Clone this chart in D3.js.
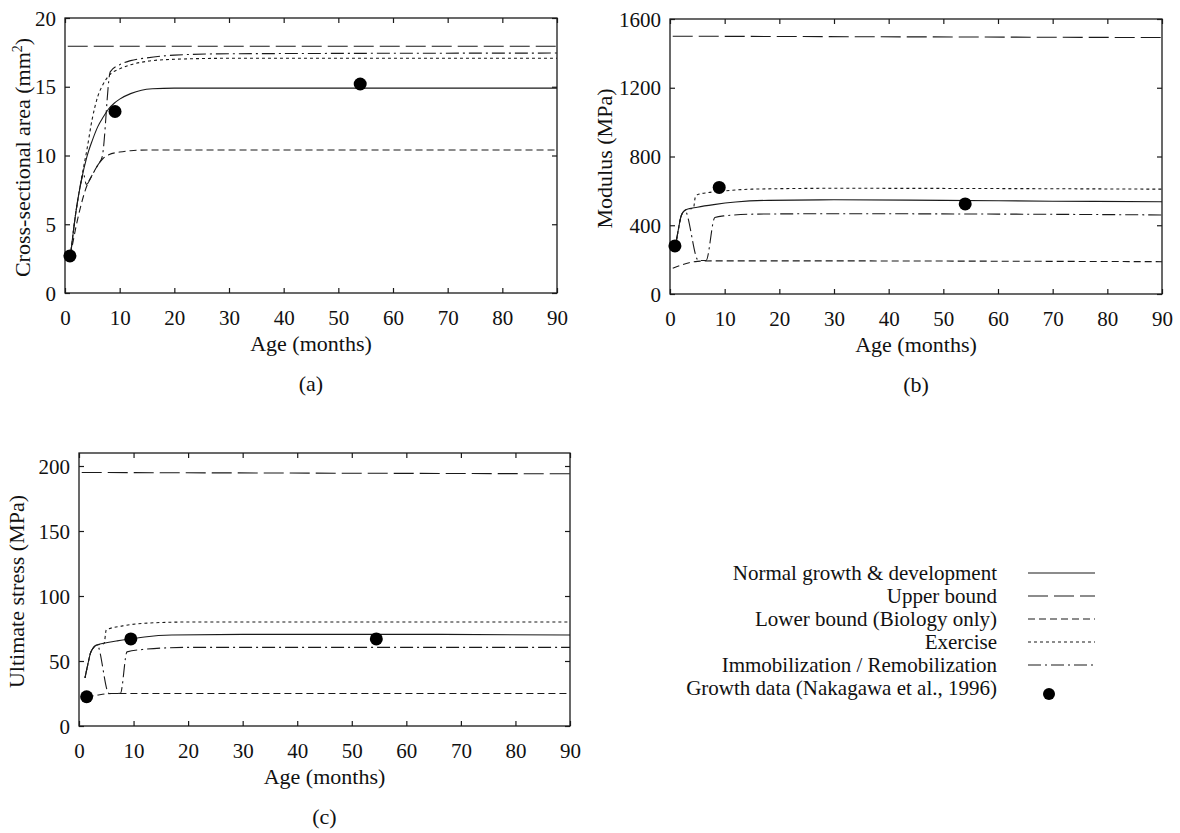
<!DOCTYPE html>
<html>
<head>
<meta charset="utf-8">
<script src="https://cdn.jsdelivr.net/npm/d3@7"></script>
<style>
  body { margin: 0; background: #fff; }
  text { font-family: 'Liberation Serif', 'Times New Roman', serif; fill: #111; }
</style>
</head>
<body>
<svg id="chart" width="1180" height="833"></svg>
<script>
/* global d3 */

// ---- data ----
const ageTicks = [0, 10, 20, 30, 40, 50, 60, 70, 80, 90]
const areaTicks = [0, 5, 10, 15, 20]
const modulusTicks = [0, 400, 800, 1200, 1600]
const stressTicks = [0, 50, 100, 150, 200]

// (a) cross-sectional area, mm^2  [age, value]
const areaNormal = [[1, 2.7], [2, 5.9], [3, 8.2], [4, 9.9], [5, 11.1], [6, 12.1], [7, 12.8], [8, 13.4], [9, 13.8], [10, 14.1], [12, 14.5], [14, 14.75], [16, 14.85], [20, 14.9], [90, 14.9]]
const areaUpper = [[0.5, 17.95], [90, 17.95]]
const areaLower = [[1, 2.7], [2, 4.8], [3, 6.5], [4, 7.8], [5, 8.6], [6, 9.3], [7, 9.8], [8, 10.05], [10, 10.25], [12, 10.35], [15, 10.4], [90, 10.4]]
const areaExercise = [[1, 2.7], [2, 5.9], [3, 8.3], [4, 10.4], [5, 12.7], [6, 14.3], [7, 15.2], [8, 15.8], [10, 16.3], [12, 16.6], [15, 16.85], [20, 17.0], [30, 17.07], [90, 17.07]]
const areaImmob = [[1, 2.7], [2, 5.9], [3, 8.2], [3.35, 8.7], [3.9, 7.9], [5, 8.6], [6, 9.3], [6.8, 9.9], [8.3, 16.1], [10, 16.6], [12, 16.9], [15, 17.1], [20, 17.3], [30, 17.4], [90, 17.45]]
const areaData = [[0.9, 2.7], [9.15, 13.2], [54, 15.2]]

// (b) modulus, MPa
const modNormal = [[1, 280], [1.5, 370], [2, 450], [2.5, 480], [3, 492], [5, 505], [8, 520], [12, 535], [18, 545], [30, 548], [50, 545], [70, 540], [90, 537]]
const modUpper = [[0.5, 1500], [90, 1492]]
const modLower = [[0.5, 150], [2, 168], [3.5, 182], [5, 190], [8, 193], [15, 193], [90, 188]]
const modExercise = [[1, 280], [1.5, 370], [2, 450], [2.5, 480], [3, 492], [4.3, 500], [4.6, 560], [5, 578], [7, 590], [10, 600], [15, 610], [30, 615], [90, 610]]
const modImmob = [[1, 280], [1.5, 370], [2, 450], [2.7, 485], [5.2, 195], [6.6, 195], [8.2, 445], [10, 455], [16, 465], [30, 467], [60, 465], [90, 460]]
const modData = [[0.9, 280], [9, 620], [54, 524]]

// (c) ultimate stress, MPa
const stressNormal = [[1.1, 37], [1.6, 47], [2.1, 56], [2.6, 60], [3.1, 62], [5, 64], [7, 65.5], [9.5, 67], [12, 68.5], [17, 70], [30, 70.5], [60, 70.5], [90, 70]]
const stressUpper = [[0.5, 195], [90, 194]]
const stressLower = [[1.4, 22.5], [3, 23.5], [6, 25], [90, 25]]
const stressExercise = [[1.1, 37], [1.6, 47], [2.1, 56], [2.6, 60], [3.1, 62], [4.6, 63.5], [5.0, 74], [8, 77], [12, 79], [20, 80], [90, 80]]
const stressImmob = [[1.1, 37], [1.6, 47], [2.1, 56], [2.6, 60], [3.3, 62.5], [5.5, 25], [7.6, 25.2], [8.8, 57], [12, 59], [20, 60.5], [90, 60.5]]
const stressData = [[1.4, 22.5], [9.5, 67], [54.5, 67]]

const legendLabels = ['Normal growth & development', 'Upper bound', 'Lower bound (Biology only)', 'Exercise', 'Immobilization / Remobilization', 'Growth data (Nakagawa et al., 1996)']

// ---- styles ----
let tickSize = 21
let titleSize = 22
let legendSize = 21
let lineColor = '#1a1a1a'
const serif = "'Liberation Serif', 'Times New Roman', serif"
const dashes = { normal: null, upper: '20,6', lower: '7,4', exercise: '3,3', immob: '13,4,2,4' }

const svg = d3.select('#chart')

function drawPanel (box, yMax, yTicks, series, points, yLabel, tag) {
  const x = d3.scaleLinear().domain([0, 90]).range([box.left, box.right])
  const y = d3.scaleLinear().domain([0, yMax]).range([box.bottom, box.top])
  const g = svg.append('g')

  // frame
  g.append('rect')
    .attr('x', box.left)
    .attr('y', box.top)
    .attr('width', box.right - box.left)
    .attr('height', box.bottom - box.top)
    .attr('fill', 'none')
    .attr('stroke', lineColor)
    .attr('stroke-width', 1.3)

  // axes with inward ticks, mirrored on top / right
  const bottom = g.append('g').attr('transform', 'translate(0,' + box.bottom + ')')
    .call(d3.axisBottom(x).tickValues(ageTicks).tickFormat(d3.format('d')).tickSizeInner(-5).tickSizeOuter(0).tickPadding(17))
  const left = g.append('g').attr('transform', 'translate(' + box.left + ',0)')
    .call(d3.axisLeft(y).tickValues(yTicks).tickFormat(d3.format('d')).tickSizeInner(-5).tickSizeOuter(0).tickPadding(9))
  g.append('g').attr('transform', 'translate(0,' + box.top + ')')
    .call(d3.axisTop(x).tickValues(ageTicks).tickSizeInner(-5).tickSizeOuter(0).tickFormat(''))
  g.append('g').attr('transform', 'translate(' + box.right + ',0)')
    .call(d3.axisRight(y).tickValues(yTicks).tickSizeInner(-5).tickSizeOuter(0).tickFormat(''))
  g.selectAll('.domain').remove()
  g.selectAll('.tick line').attr('stroke', lineColor).attr('stroke-width', 1.2)
  g.selectAll('g').attr('font-family', serif)
  g.selectAll('.tick text')
    .style('font-size', tickSize + 'px')
    .style('font-family', serif)
    .attr('fill', '#111')
  bottom.selectAll('.tick text').attr('dy', '0.71em')
  left.selectAll('.tick text').attr('dy', '0.34em')

  // curves
  const line = d3.line()
    .x(d => x(d[0]))
    .y(d => y(d[1]))
    .curve(d3.curveMonotoneX)
  Object.keys(series).forEach(function (k) {
    g.append('path')
      .datum(series[k])
      .attr('d', line)
      .attr('fill', 'none')
      .attr('stroke', lineColor)
      .attr('stroke-width', 1.1)
      .attr('stroke-dasharray', dashes[k])
  })

  g.selectAll('circle.pt')
    .data(points)
    .enter()
    .append('circle')
    .attr('class', 'pt')
    .attr('cx', d => x(d[0]))
    .attr('cy', d => y(d[1]))
    .attr('r', 6.5)
    .attr('fill', '#000')

  // labels
  const midY = (box.top + box.bottom) / 2 + 2
  const yl = g.append('text')
    .attr('transform', 'translate(' + box.labelX + ',' + midY + ') rotate(-90)')
    .attr('text-anchor', 'middle')
    .attr('dy', '0.35em')
    .style('font-size', titleSize + 'px')
  yLabel(yl)

  g.append('text')
    .text('Age (months)')
    .attr('x', (box.left + box.right) / 2)
    .attr('y', box.bottom + 58)
    .attr('text-anchor', 'middle')
    .style('font-size', titleSize + 'px')
  g.append('text')
    .text(tag)
    .attr('x', (box.left + box.right) / 2)
    .attr('y', box.bottom + 98)
    .attr('text-anchor', 'middle')
    .style('font-size', titleSize + 'px')
}

drawPanel({ left: 65, right: 557, top: 18, bottom: 293, labelX: 22 }, 20, areaTicks,
  { normal: areaNormal, upper: areaUpper, lower: areaLower, exercise: areaExercise, immob: areaImmob },
  areaData,
  function (t) {
    t.append('tspan').text('Cross-sectional area (mm')
    t.append('tspan').text('2').attr('dy', -8).style('font-size', '14px')
    t.append('tspan').text(')').attr('dy', 8)
  }, '(a)')

drawPanel({ left: 670, right: 1162, top: 19, bottom: 294, labelX: 604 }, 1600, modulusTicks,
  { normal: modNormal, upper: modUpper, lower: modLower, exercise: modExercise, immob: modImmob },
  modData,
  function (t) { t.text('Modulus (MPa)') }, '(b)')

drawPanel({ left: 79, right: 570, top: 453, bottom: 726, labelX: 16 }, 210, stressTicks,
  { normal: stressNormal, upper: stressUpper, lower: stressLower, exercise: stressExercise, immob: stressImmob },
  stressData,
  function (t) { t.text('Ultimate stress (MPa)') }, '(c)')

// ---- legend ----
const legendKeys = ['normal', 'upper', 'lower', 'exercise', 'immob', 'data']
const legend = svg.append('g')
legendKeys.forEach(function (k, i) {
  const ly = 573 + i * 23
  legend.append('text')
    .text(legendLabels[i])
    .attr('x', 997)
    .attr('y', ly)
    .attr('dy', '0.35em')
    .attr('text-anchor', 'end')
    .style('font-size', legendSize + 'px')
  if (k === 'data') {
    legend.append('circle')
      .attr('cx', 1049)
      .attr('cy', ly + 6)
      .attr('r', 6)
      .attr('fill', '#000')
  } else {
    legend.append('line')
      .attr('x1', 1028)
      .attr('x2', 1095)
      .attr('y1', ly)
      .attr('y2', ly)
      .attr('stroke', lineColor)
      .attr('stroke-width', 1.1)
      .attr('stroke-dasharray', dashes[k])
  }
})
</script>
</body>
</html>
